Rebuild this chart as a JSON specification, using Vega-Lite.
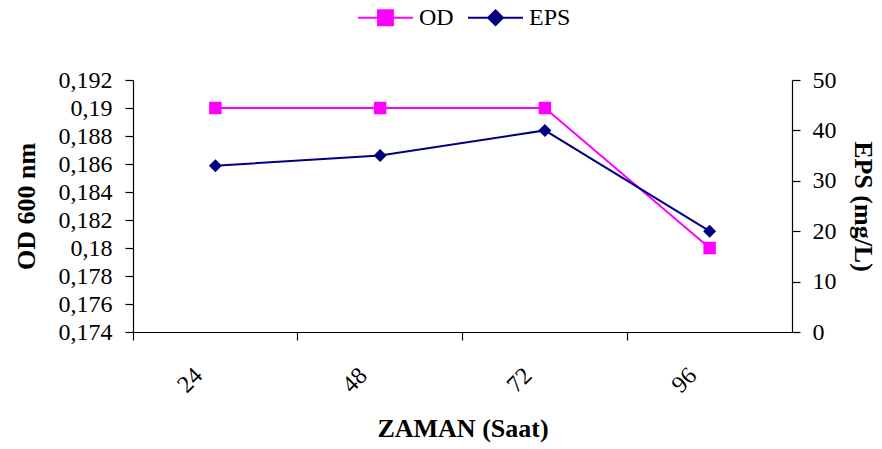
{
  "$schema": "https://vega.github.io/schema/vega-lite/v6.json",
  "autosize": {"type": "none"},
  "padding": {"left": 133, "top": 80, "right": 90, "bottom": 117},
  "width": 659,
  "height": 252,
  "config": {
    "view": {"stroke": null},
    "font": "Liberation Serif",
    "axis": {
      "domainColor": "black", "tickColor": "black", "grid": false,
      "labelFont": "Liberation Serif", "labelFontSize": 24, "labelColor": "black",
      "titleFont": "Liberation Serif", "titleFontSize": 26, "titleFontWeight": "bold", "titleColor": "black",
      "tickSize": 8, "domainWidth": 1.2, "tickWidth": 1.2
    },
    "legend": {"labelFont": "Liberation Serif", "labelFontSize": 24, "labelColor": "black"}
  },
  "data": {"values": [
    {"saat": "24", "OD": 0.19, "EPS": 33},
    {"saat": "48", "OD": 0.19, "EPS": 35},
    {"saat": "72", "OD": 0.19, "EPS": 40},
    {"saat": "96", "OD": 0.18, "EPS": 20}
  ]},
  "encoding": {
    "x": {
      "field": "saat", "type": "nominal", "sort": null,
      "scale": {"type": "band", "paddingInner": 0, "paddingOuter": 0},
      "axis": {"title": "ZAMAN (Saat)", "labelAngle": -45, "labelAlign": "center", "labelBaseline": "middle",
               "labelOffset": -25, "labelPadding": 40, "bandPosition": 0, "titlePadding": 19}
    }
  },
  "layer": [
    {
      "mark": {"type": "line", "strokeWidth": 2, "point": {"shape": "square", "size": 156, "filled": true, "opacity": 1}},
      "encoding": {
        "y": {"field": "OD", "type": "quantitative",
              "scale": {"domain": [0.174, 0.192], "nice": false, "zero": false},
              "axis": {"title": "OD 600 nm", "orient": "left",
                       "values": [0.174, 0.176, 0.178, 0.18, 0.182, 0.184, 0.186, 0.188, 0.19, 0.192],
                       "labelExpr": "replace(format(datum.value, '.3~f'), '.', ',')", "labelPadding": 13, "titlePadding": 19}},
        "color": {"datum": "OD", "type": "nominal",
                  "scale": {"domain": ["OD", "EPS"], "range": ["#FF00FF", "#000080"]},
                  "legend": {"title": null, "orient": "none", "direction": "horizontal",
                             "legendX": 224, "legendY": -91, "symbolSize": 3025, "symbolStrokeWidth": 2,
                             "columnPadding": 10, "labelOffset": 5,
                             "encode": {"symbols": {"update": {
                               "shape": {"signal": "datum.value === 'OD' ? 'M-1,0H-0.27M0.27,0H1M-0.27,-0.27H0.27V0.27H-0.27Z' : 'M-1,0H-0.27M0.27,0H1M0,-0.27L0.27,0L0,0.27L-0.27,0Z'"},
                               "fill": {"signal": "datum.value === 'OD' ? '#FF00FF' : '#000080'"},
                               "stroke": {"signal": "datum.value === 'OD' ? '#FF00FF' : '#000080'"},
                               "strokeWidth": {"value": 2}
                             }}}}}
      }
    },
    {
      "mark": {"type": "line", "strokeWidth": 2, "point": {"shape": "diamond", "size": 169, "filled": true, "opacity": 1}},
      "encoding": {
        "y": {"field": "EPS", "type": "quantitative",
              "scale": {"domain": [0, 50], "nice": false},
              "axis": {"title": "EPS (mg/L)", "orient": "right", "values": [0, 10, 20, 30, 40, 50],
                       "labelPadding": 12, "titlePadding": 13}},
        "color": {"datum": "EPS", "type": "nominal"}
      }
    }
  ],
  "resolve": {"scale": {"y": "independent"}}
}
